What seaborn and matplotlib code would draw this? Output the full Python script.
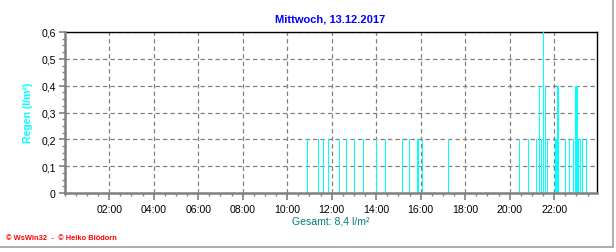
import matplotlib
matplotlib.use("Agg")
import matplotlib.pyplot as plt
import seaborn as sns
import pandas as pd
import numpy as np
from matplotlib.ticker import MultipleLocator, FixedLocator
from matplotlib.lines import Line2D

# Data: time of day (hours) and rainfall (l/m²)
times = [10.90, 11.40, 11.62, 11.85, 12.34, 12.67, 13.02, 13.42, 14.02, 14.43,
         15.19, 15.49, 15.87, 16.09, 17.24,
         20.44, 20.84, 21.20, 21.34, 21.42, 21.51, 21.60, 21.69, 22.09, 22.18,
         22.51, 22.69, 22.87, 22.97, 23.03, 23.10, 23.17, 23.26, 23.44]
rain = [0.2, 0.2, 0.2, 0.2, 0.2, 0.2, 0.2, 0.2, 0.2, 0.2,
        0.2, 0.2, 0.2, 0.2, 0.2,
        0.2, 0.2, 0.2, 0.4, 0.2, 0.6, 0.4, 0.2, 0.2, 0.4,
        0.2, 0.2, 0.2, 0.4, 0.4, 0.2, 0.2, 0.2, 0.2]
xtick_hours = [2, 4, 6, 8, 10, 12, 14, 16, 18, 20, 22]
xtick_labels = ["02:00", "04:00", "06:00", "08:00", "10:00", "12:00",
                "14:00", "16:00", "18:00", "20:00", "22:00"]
ytick_vals = [0, 0.1, 0.2, 0.3, 0.4, 0.5, 0.6]
ytick_labels = ["0", "0,1", "0,2", "0,3", "0,4", "0,5", "0,6"]
title = "Mittwoch, 13.12.2017"
ylabel = "Regen (l/m²)"
total_label = "Gesamt: 8,4 l/m²"
copyright = "© WsWin32  -  © Heiko Blödorn"

df = pd.DataFrame({"time": times, "rain": rain})

sns.set_style("white")
plt.rcParams["font.family"] = ["Liberation Sans", "DejaVu Sans"]

W, H = 616, 253
fig = plt.figure(figsize=(W / 100, H / 100), dpi=100)
left, right, top, bottom = 64.7, 597, 33, 194
ax = fig.add_axes([left / W, 1 - bottom / H, (right - left) / W, (bottom - top) / H])

sns.barplot(data=df, x="time", y="rain", native_scale=True, color="#00ffff",
            errorbar=None, ax=ax, saturation=1, zorder=3)
for p in ax.patches:
    c = p.get_x() + p.get_width() / 2
    p.set_width(0.065)
    p.set_x(c - 0.0325)
    p.set_linewidth(0)
    p.set_facecolor("#00ffff")
    p.set_alpha(1)

ax.set_xlim(0, (right - left) / 22.25)
ax.set_ylim(0, 0.6)

ax.xaxis.set_major_locator(FixedLocator(xtick_hours))
ax.set_xticklabels(xtick_labels)
ax.xaxis.set_minor_locator(MultipleLocator(0.5))
ax.yaxis.set_major_locator(FixedLocator(ytick_vals))
ax.set_yticklabels(ytick_labels)
ax.yaxis.set_minor_locator(MultipleLocator(0.025))

ax.grid(True, which="major", color="#808080", linestyle=(0, (3.5, 2.5)), linewidth=0.9, zorder=1)
ax.set_axisbelow(True)

ax.tick_params(axis="both", which="major", direction="out", length=4, width=1.2,
               color="#808080", labelsize=7.6, labelcolor="black", pad=2.5)
ax.tick_params(axis="both", which="minor", direction="out", length=2.5, width=1,
               color="#808080")
ax.tick_params(axis="x", which="major", length=5, pad=3)
ax.tick_params(bottom=True, left=True, which="both")

for s in ["top", "right"]:
    ax.spines[s].set_visible(True)
    ax.spines[s].set_color("black")
    ax.spines[s].set_linewidth(1.0)
for s in ["left", "bottom"]:
    ax.spines[s].set_visible(True)
    ax.spines[s].set_color("#808080")
    ax.spines[s].set_linewidth(1.8)
    ax.spines[s].set_zorder(5)

ax.set_xlabel("")
ax.set_ylabel("")

fig.text(330 / W, 1 - 19 / H, title, ha="center", va="center", color="#0000ff",
         fontsize=8, fontweight="bold")
fig.text(28 / W, 1 - 113 / H, ylabel, ha="center", va="center", color="#00ffff",
         fontsize=7.6, fontweight="bold", rotation=90)
fig.text(331 / W, 1 - 222 / H, total_label, ha="center", va="center", color="#008080",
         fontsize=7.6)
fig.text(6 / W, 1 - 239 / H, copyright, ha="left", va="center", color="#ff0000",
         fontsize=5.4, fontweight="bold")

# figure frame lines (right and bottom)
fig.add_artist(Line2D([612.5 / W, 612.5 / W], [1 - 248 / H, 1], transform=fig.transFigure,
                      color="#a0a0a0", linewidth=1.2))
fig.add_artist(Line2D([0, 612.5 / W], [1 - 248 / H, 1 - 248 / H], transform=fig.transFigure,
                      color="#a0a0a0", linewidth=1.2))

fig.savefig("out.png", dpi=100)
